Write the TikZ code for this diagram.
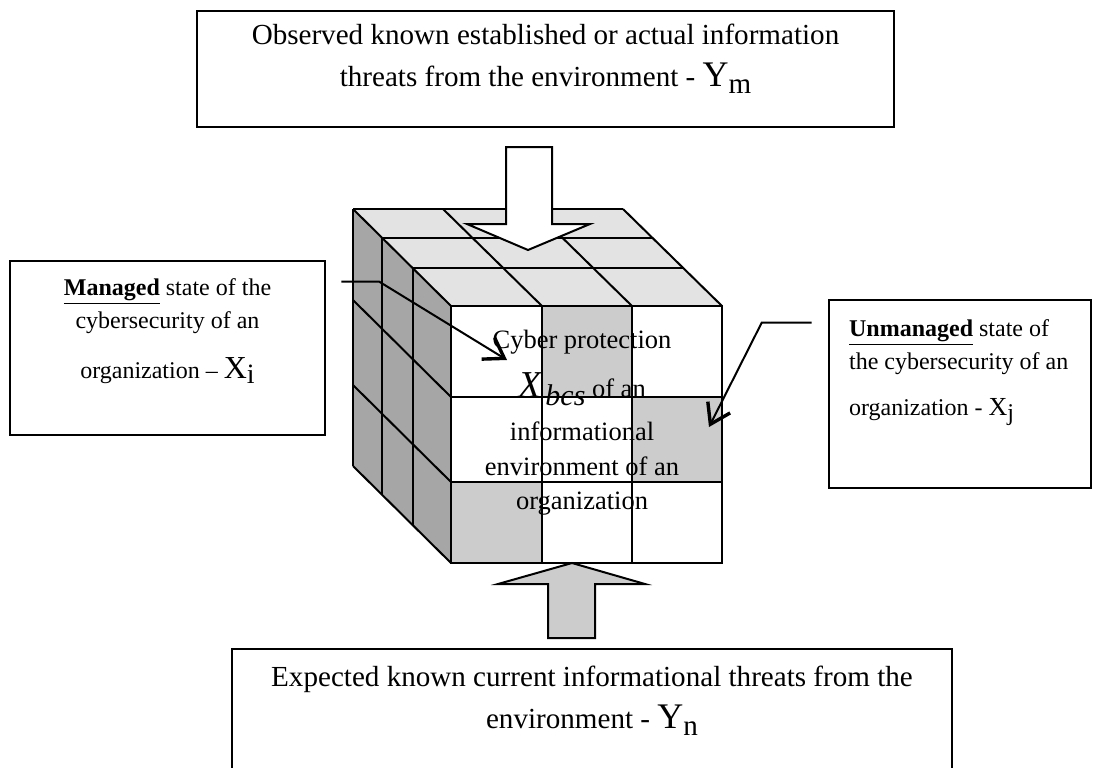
\documentclass[tikz,border=0pt]{standalone}
\usepackage{fontspec}
\setmainfont{Liberation Serif}
\usepackage{tikz}
\usetikzlibrary{arrows.meta, positioning}
\definecolor{csTop}{HTML}{E3E3E3}
\definecolor{csSide}{HTML}{A6A6A6}
\definecolor{csCell}{HTML}{CCCCCC}
\newcommand{\threatvar}[1]{{\fontsize{18}{18}\selectfont Y}\raisebox{-3.5pt}{#1}}
\tikzset{
  cs-frame/.style={
    rectangle, draw=black, line width=1.3pt, fill=white, inner sep=0pt
  },
  cs-threat/.style={
    align=center, inner sep=0pt, font=\fontsize{14.55}{21}\selectfont
  },
  cs-state/.style={
    inner sep=0pt, font=\fontsize{12}{16.5}\selectfont
  },
  cs-core/.style={
    align=center, inner sep=0pt, font=\fontsize{13.25}{17.25}\selectfont
  },
  cs-edge/.style={draw=black, line width=1pt},
  cs-block/.style={draw=black, line width=1pt, line join=miter},
  cs-pointer/.style={
    line width=1pt, -{Straight Barb[length=9.5pt, width=12.5pt, line width=1.7pt]}
  },
}

\begin{document}
\begin{tikzpicture}[x=0.5pt, y=-0.5pt]
  \useasboundingbox (0,0) rectangle (1093,767);

  % the cube
  \fill[csSide] (353,209) -- (451,306) -- (451,563) -- (353,466) -- cycle;
  \fill[csTop]  (353,209) -- (623,209) -- (722,306) -- (451,306) -- cycle;
  \fill[white]  (451,306) rectangle (722,563);
  \fill[csCell] (542,306) rectangle (632,397);
  \fill[csCell] (632,397) rectangle (722,482);
  \fill[csCell] (451,482) rectangle (542,563);

  \draw[cs-edge] (451,306) rectangle (722,563);
  \foreach \x in {542,632}
    \draw[cs-edge] (\x,306) -- (\x,563);
  \foreach \y in {397,482}
    \draw[cs-edge] (451,\y) -- (722,\y);
  \foreach \x/\y in {353/209, 382/238, 413/268} {
    \draw[cs-edge] (\x,\y) -- +(270,0);
    \draw[cs-edge] (\x,\y) -- +(0,257);
  }
  \foreach \y in {209,300,385,466}
    \draw[cs-edge] (353,\y) -- +(98,97);
  \foreach \x in {443,533,623}
    \draw[cs-edge] (\x,209) -- +(99,97);

  % threat arrows
  \draw[cs-block, fill=white]
    (506,147) -- (506,224) -- (467,224) -- (528,250) -- (590,224)
    -- (552,224) -- (552,147) -- cycle;
  \draw[cs-block, fill=csCell]
    (548,638) -- (548,584) -- (498,584) -- (572,563) -- (645,584)
    -- (595,584) -- (595,638) -- cycle;

  \node[cs-core, anchor=north] (core) at (582,330)
    {Cyber protection\\[7.25pt]
     {\fontsize{19}{19}\selectfont\itshape X}\hspace{2pt}\raisebox{-4pt}{\fontsize{15}{15}\selectfont\itshape bcs} of an\\[4.25pt]
     informational\\
     environment of an\\
     organization};

  % boxes
  \node[cs-frame, minimum width=348.5pt, minimum height=58pt]  (ymbox)  at (545.5,69)  {};
  \node[cs-frame, minimum width=157.5pt, minimum height=87pt]  (mgdbox) at (167.5,348) {};
  \node[cs-frame, minimum width=131pt,   minimum height=94pt]  (umgbox) at (960,394)   {};
  \node[cs-frame, minimum width=360pt,   minimum height=75.5pt] (ynbox) at (592,724.5) {};

  \node[cs-threat, below=7pt of ymbox.north] (ymtxt)
    {Observed known established or actual information\\
     threats from the environment - \threatvar{m}};
  \node[cs-threat, below=9pt of ynbox.north] (yntxt)
    {Expected known current informational threats from the\\
     environment - \threatvar{n}};
  \node[cs-state, align=center, below=9pt of mgdbox.north] (mgdtxt)
    {\underline{\textbf{Managed}} state of the\\
     cybersecurity of an\\[8.5pt]
     organization -- {\fontsize{16}{16}\selectfont X}\raisebox{-2.5pt}{\fontsize{14}{14}\selectfont i}};
  \node[cs-state, align=left, below right=10.3pt and 10.5pt of umgbox.north west] (umgtxt)
    {\underline{\textbf{Unmanaged}} state of\\
     the cybersecurity of an\\[6.5pt]
     organization - {\fontsize{13}{13}\selectfont X}\raisebox{-2.5pt}{j}};

  % pointers into the cube
  \coordinate (mgd-in) at (507,360);
  \coordinate (umg-in) at (709,427);
  \draw[cs-pointer] ([shift={(15,22)}]mgdbox.north east) -- ++(38,0) -- (mgd-in);
  \draw[cs-pointer] ([shift={(-16,24)}]umgbox.north west) -- ++(-50,0) -- (umg-in);
\end{tikzpicture}
\end{document}
